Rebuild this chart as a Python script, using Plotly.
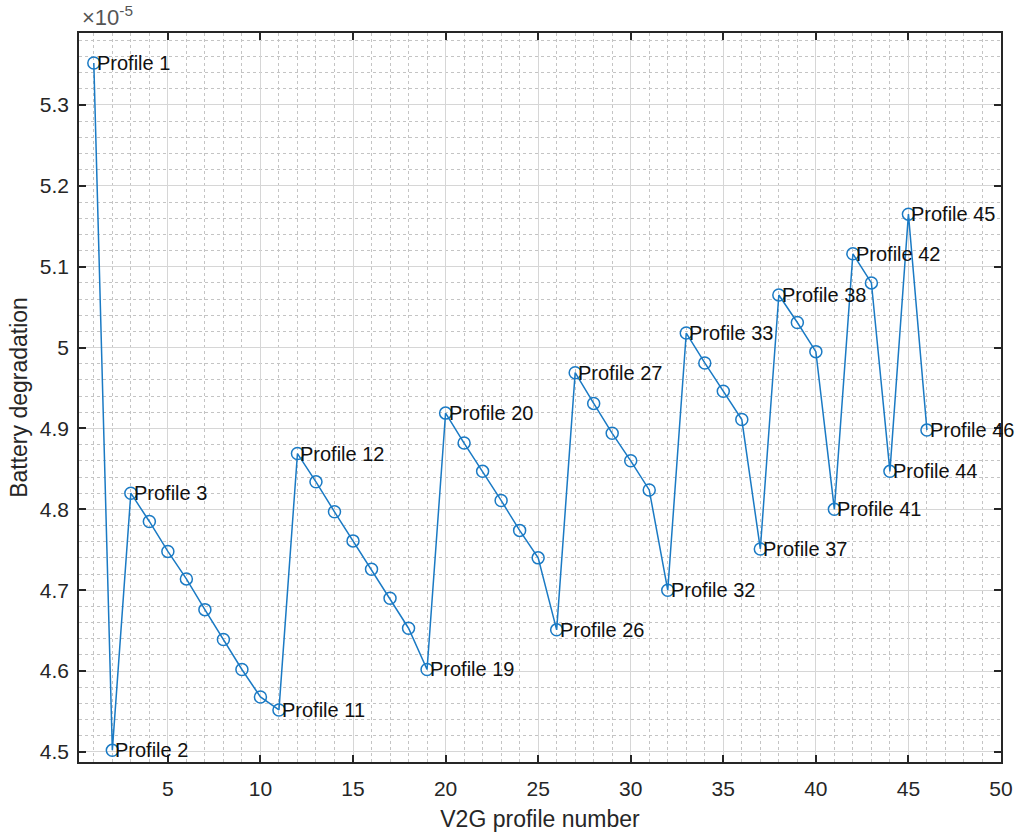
import plotly.graph_objects as go

# V2G profile numbers and battery degradation (in units of 1e-5)
profile_number = list(range(1, 47))
degradation_e5 = [
    5.352, 4.502, 4.820, 4.785, 4.748, 4.714, 4.676, 4.639, 4.602, 4.568,
    4.552, 4.869, 4.834, 4.797, 4.761, 4.726, 4.690, 4.653, 4.602, 4.919,
    4.882, 4.847, 4.811, 4.774, 4.740, 4.651, 4.969, 4.931, 4.894, 4.860,
    4.824, 4.700, 5.018, 4.981, 4.946, 4.911, 4.751, 5.065, 5.031, 4.995,
    4.800, 5.116, 5.080, 4.847, 5.165, 4.898,
]
# Profiles that get a text label next to their marker
labelled_profiles = [1, 2, 3, 11, 12, 19, 20, 26, 27, 32, 33, 37, 38, 41, 42, 44, 45, 46]

x_ticks = [5, 10, 15, 20, 25, 30, 35, 40, 45, 50]
y_ticks = [4.5, 4.6, 4.7, 4.8, 4.9, 5.0, 5.1, 5.2, 5.3]
y_tick_text = ["4.5", "4.6", "4.7", "4.8", "4.9", "5", "5.1", "5.2", "5.3"]

line_color = "#1a7ac4"
axis_color = "#262626"
font_family = "Liberation Sans, Arial, Helvetica, sans-serif"

fig = go.Figure()
fig.add_trace(go.Scatter(
    x=profile_number,
    y=degradation_e5,
    mode="lines+markers",
    line=dict(color=line_color, width=1.5),
    marker=dict(symbol="circle-open", size=12, color=line_color, line=dict(width=1.5)),
    showlegend=False,
))

for p in labelled_profiles:
    fig.add_annotation(
        x=p, y=degradation_e5[p - 1],
        text=f"Profile {p}",
        showarrow=False,
        xanchor="left", yanchor="middle",
        xshift=1,
        font=dict(family=font_family, size=20, color="#111111"),
    )

# Exponent multiplier above the y axis
fig.add_annotation(
    x=0, y=1, xref="paper", yref="paper",
    xanchor="left", yanchor="bottom", yshift=1, xshift=1,
    text="×10<sup>-5</sup>",
    showarrow=False,
    font=dict(family=font_family, size=22, color="#555555"),
)

axis_common = dict(
    showline=True, linecolor=axis_color, linewidth=1.5, mirror="ticks",
    ticks="inside", ticklen=7, tickwidth=1.5, tickcolor=axis_color,
    showgrid=True, gridcolor="#d6d6d6", gridwidth=1,
    zeroline=False, automargin=False,
    tickfont=dict(family=font_family, size=21, color=axis_color),
)

fig.update_xaxes(
    range=[0.2, 50],
    tickvals=x_ticks,
    ticklabelstandoff=7,
    title=dict(text="V2G profile number", standoff=12,
               font=dict(family=font_family, size=23, color=axis_color)),
    minor=dict(dtick=1, tick0=0, showgrid=True, gridcolor="#c4c4c4",
               griddash="dot", gridwidth=1, ticks=""),
    **axis_common,
)
fig.update_yaxes(
    range=[4.4876, 5.389],
    tickvals=y_ticks,
    ticktext=y_tick_text,
    ticklabelstandoff=4,
    title=dict(text="Battery degradation", standoff=6,
               font=dict(family=font_family, size=23, color=axis_color)),
    minor=dict(dtick=0.02, tick0=4.5, showgrid=True, gridcolor="#c4c4c4",
               griddash="dot", gridwidth=1, ticks=""),
    **axis_common,
)

fig.update_layout(
    width=1018, height=835,
    margin=dict(l=79, r=17, t=33, b=73),
    plot_bgcolor="#ffffff",
    paper_bgcolor="#ffffff",
)

fig.write_html("out.html")
